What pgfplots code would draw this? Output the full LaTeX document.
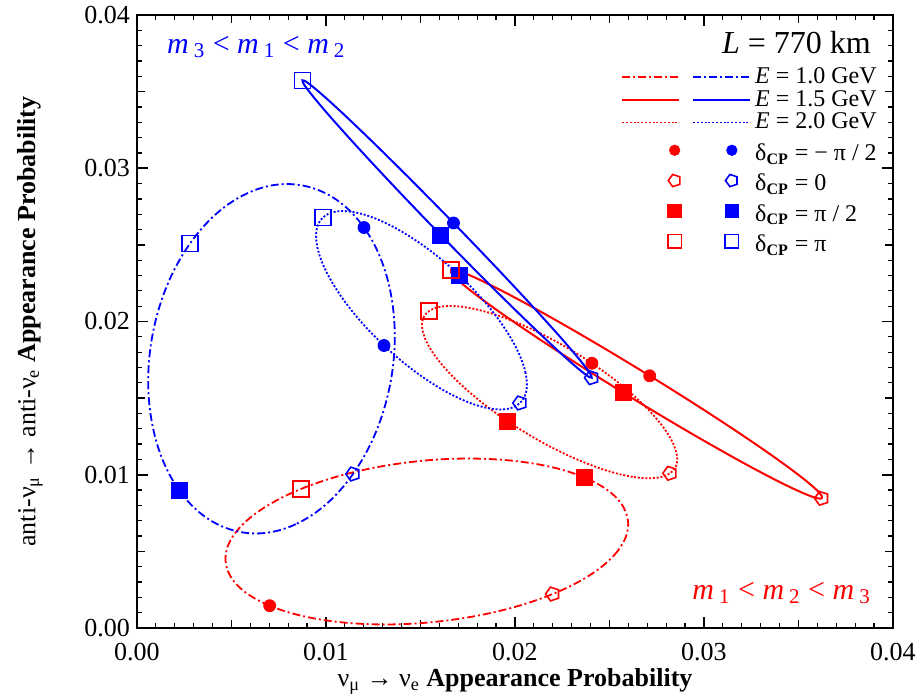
\documentclass[border=0pt]{standalone}
\usepackage{fontspec}
\setmainfont{Liberation Serif}
\usepackage{pgfplots}
\pgfplotsset{compat=1.18}
\tikzset{
  dd/.style={line width=0.9pt, dash pattern=on 4pt off 1.5pt on 1pt off 1.5pt},
  dt/.style={line width=0.9pt, dash pattern=on 1pt off 0.9pt},
  sl/.style={line width=1pt},
  ell/.style={smooth cycle, tension=0.64}
}
\pgfplotsset{
  mylegend/.style={
    legend columns=3, legend cell align=left,
    legend style={draw=none, fill=none, anchor=north east,
      inner sep=0pt, row sep=1.9pt, column sep=0pt,
      nodes={inner sep=0pt, font=\fontsize{12}{14}\selectfont},
      /tikz/column 2/.style={column sep=5pt},
      /tikz/column 5/.style={column sep=1pt}}
  }
}
\newcommand{\mstrut}{\rule[-4.55pt]{0pt}{16.3pt}}
\begin{document}
\begin{tikzpicture}
\path[use as bounding box] (-68.5pt,-34pt) rectangle (392.5pt,314pt);
\begin{axis}[
  scale only axis, width=378pt, height=306.5pt,
  xmin=0, xmax=0.04, ymin=0, ymax=0.04,
  xtick={0,0.01,0.02,0.03,0.04}, ytick={0,0.01,0.02,0.03,0.04},
  minor tick num=9,
  extra x ticks={0.005,0.015,0.025,0.035}, extra x tick labels={},
  extra y ticks={0.005,0.015,0.025,0.035}, extra y tick labels={},
  extra tick style={major tick length=3.8pt},
  major tick length=5.5pt, minor tick length=2.6pt,
  scaled ticks=false,
  /pgf/number format/assume math mode=true,
  xticklabel style={/pgf/number format/fixed, /pgf/number format/fixed zerofill, /pgf/number format/precision=2, yshift=-4pt},
  yticklabel style={/pgf/number format/fixed, /pgf/number format/fixed zerofill, /pgf/number format/precision=2},
  ticklabel style={font=\fontsize{13}{15}\selectfont},
  axis line style={line width=1pt},
  major tick style={line width=0.8pt, black},
  minor tick style={line width=0.6pt, black},
  xlabel={ν\textsubscript{μ} → ν\textsubscript{e} \textbf{Appearance Probability}},
  ylabel={anti-ν\textsubscript{μ} → anti-ν\textsubscript{e} \textbf{Appearance Probability}},
  label style={font=\fontsize{13}{15}\selectfont},
  xlabel style={at={(axis description cs:0.5,-0.087)}, anchor=center},
  ylabel style={at={(axis description cs:-0.1415,0.5)}, anchor=center},
  mylegend,
  legend style={at={(axis description cs:0.979,0.915)}},
]
% ---------------- curves -----------------
% red E=1.0
\addplot[red, dd, ell, forget plot] coordinates {
(0.021995,0.002218) (0.025261,0.004772) (0.025867,0.007559) (0.023651,0.009833)
(0.019207,0.010985) (0.013727,0.010706) (0.008677,0.009070) (0.005411,0.006516)
(0.004805,0.003729) (0.007021,0.001455) (0.011465,0.000303) (0.016945,0.000582)};
% red E=2.0
\addplot[red, dt, ell, forget plot] coordinates {
(0.028201,0.010095) (0.026228,0.009863) (0.023078,0.011111) (0.019593,0.013507)
(0.016708,0.016407) (0.015196,0.019033) (0.015461,0.020685) (0.017434,0.020917)
(0.020584,0.019669) (0.024069,0.017273) (0.026954,0.014373) (0.028466,0.011747)};
% red E=1.5
\addplot[red, sl, ell, forget plot] coordinates {
(0.036228,0.008463) (0.034561,0.009188) (0.030714,0.011715)
(0.025715,0.015367) (0.020906,0.019165) (0.017575,0.022090)
(0.016614,0.023361) (0.018281,0.022636) (0.022128,0.020109)
(0.027127,0.016457) (0.031936,0.012659) (0.035267,0.009734)};
% blue E=1.0
\addplot[blue, dd, ell, forget plot] coordinates {
(0.011428,0.010049) (0.008403,0.006775) (0.005034,0.006393) (0.002222,0.009005)
(0.000722,0.013913) (0.000935,0.019799) (0.002804,0.025089) (0.005829,0.028363)
(0.009198,0.028745) (0.012010,0.026133) (0.013510,0.021225) (0.013297,0.015339)};
% blue E=2.0
\addplot[blue, dt, ell, forget plot] coordinates {
(0.020265,0.014682) (0.020559,0.016643) (0.019377,0.019700) (0.017037,0.023034)
(0.014165,0.025752) (0.011531,0.027125) (0.009841,0.026786) (0.009547,0.024825)
(0.010729,0.021768) (0.013069,0.018434) (0.015941,0.015716) (0.018575,0.014343)};
% blue E=1.5
\addplot[blue, sl, ell, forget plot] coordinates {
(0.024058,0.016333) (0.022863,0.017437) (0.019939,0.020845)
(0.016068,0.025644) (0.012287,0.030549) (0.009611,0.034243)
(0.008756,0.035739) (0.009951,0.034635) (0.012875,0.031227)
(0.016746,0.026428) (0.020527,0.021523) (0.023203,0.017829)};
% ---------------- markers -----------------
\addplot[only marks, red, mark=*, mark size=3pt, forget plot] coordinates {(0.007021,0.001455) (0.027127,0.016457) (0.024069,0.017273)};
\addplot[only marks, blue, mark=*, mark size=3pt, forget plot] coordinates {(0.012010,0.026133) (0.016746,0.026428) (0.013069,0.018434)};
\addplot[only marks, red, mark=pentagon, mark size=3.6pt, mark options={rotate=90, line width=0.8pt}, forget plot] coordinates {(0.021995,0.002218) (0.036228,0.008463) (0.028201,0.010095)};
\addplot[only marks, blue, mark=pentagon, mark size=3.6pt, mark options={rotate=90, line width=0.8pt}, forget plot] coordinates {(0.011428,0.010049) (0.024058,0.016333) (0.020265,0.014682)};
\addplot[only marks, red, mark=square*, mark size=4pt, forget plot] coordinates {(0.023651,0.009833) (0.025715,0.015367) (0.019593,0.013507)};
\addplot[only marks, blue, mark=square*, mark size=4pt, forget plot] coordinates {(0.002222,0.009005) (0.016068,0.025644) (0.017037,0.023034)};
\addplot[only marks, red, mark=square, mark size=4pt, mark options={line width=0.8pt}, forget plot] coordinates {(0.008677,0.009070) (0.016614,0.023361) (0.015461,0.020685)};
\addplot[only marks, blue, mark=square, mark size=4pt, mark options={line width=0.8pt}, forget plot] coordinates {(0.002804,0.025089) (0.008756,0.035739) (0.009841,0.026786)};
% ---------------- line legend -----------------
\addlegendimage{legend image code/.code={\draw[red, line width=0.9pt, dash pattern=on 4pt off 1.5pt on 1pt off 1.5pt] (0pt,0pt) -- (28.5pt,0pt);}}
\addlegendentry{}
\addlegendimage{legend image code/.code={\draw[blue, line width=0.9pt, dash pattern=on 4pt off 1.5pt on 1pt off 1.5pt] (0pt,0pt) -- (28.5pt,0pt);}}
\addlegendentry{}
\addlegendimage{empty legend}
\addlegendentry{\textit{E} = 1.0 GeV}
\addlegendimage{legend image code/.code={\draw[red, line width=1pt] (0pt,0pt) -- (28.5pt,0pt);}}
\addlegendentry{}
\addlegendimage{legend image code/.code={\draw[blue, line width=1pt] (0pt,0pt) -- (28.5pt,0pt);}}
\addlegendentry{}
\addlegendimage{empty legend}
\addlegendentry{\textit{E} = 1.5 GeV}
\addlegendimage{legend image code/.code={\draw[red, line width=0.9pt, dash pattern=on 1pt off 0.9pt] (0pt,0pt) -- (28.5pt,0pt);}}
\addlegendentry{}
\addlegendimage{legend image code/.code={\draw[blue, line width=0.9pt, dash pattern=on 1pt off 0.9pt] (0pt,0pt) -- (28.5pt,0pt);}}
\addlegendentry{}
\addlegendimage{empty legend}
\addlegendentry{\textit{E} = 2.0 GeV}
% ---------------- annotations -----------------
\node[anchor=east, font=\fontsize{16}{18}\selectfont] at (axis cs:0.0392,0.0382) {\textit{L} = 770 km};
\node[anchor=west, text=blue, font=\fontsize{15}{17}\selectfont] at (axis cs:0.00122,0.0379) {\textit{m}\,\textsubscript{3} < \textit{m}\,\textsubscript{1} < \textit{m}\,\textsubscript{2}};
\node[anchor=east, text=red, font=\fontsize{15}{17}\selectfont] at (axis cs:0.0392,0.00228) {\textit{m}\,\textsubscript{1} < \textit{m}\,\textsubscript{2} < \textit{m}\,\textsubscript{3}};
\end{axis}
% ---------------- marker legend (legend-only axis) -----------------
\begin{axis}[
  scale only axis, width=378pt, height=306.5pt, hide axis,
  xmin=0, xmax=1, ymin=0, ymax=1,
  mylegend,
  legend style={at={(axis description cs:0.979,0.8016)}},
]
\addlegendimage{legend image code/.code={\path (0pt,0pt) (28.5pt,0pt); \draw[red, only marks, mark=*, mark size=2.6pt] plot coordinates {(27pt,0pt)};}}
\addlegendentry{}
\addlegendimage{legend image code/.code={\path (0pt,0pt) (28.5pt,0pt); \draw[blue, only marks, mark=*, mark size=2.6pt] plot coordinates {(19pt,0pt)};}}
\addlegendentry{}
\addlegendimage{empty legend}
\addlegendentry{\mstrut δ\textsubscript{\textbf{CP}} = − π / 2}
\addlegendimage{legend image code/.code={\path (0pt,0pt) (28.5pt,0pt); \draw[red, only marks, mark=pentagon, mark size=3.2pt, mark options={rotate=90, line width=0.8pt}] plot coordinates {(27pt,0pt)};}}
\addlegendentry{}
\addlegendimage{legend image code/.code={\path (0pt,0pt) (28.5pt,0pt); \draw[blue, only marks, mark=pentagon, mark size=3.2pt, mark options={rotate=90, line width=0.8pt}] plot coordinates {(19pt,0pt)};}}
\addlegendentry{}
\addlegendimage{empty legend}
\addlegendentry{\mstrut δ\textsubscript{\textbf{CP}} = 0}
\addlegendimage{legend image code/.code={\path (0pt,0pt) (28.5pt,0pt); \draw[red, only marks, mark=square*, mark size=3.4pt] plot coordinates {(27pt,0pt)};}}
\addlegendentry{}
\addlegendimage{legend image code/.code={\path (0pt,0pt) (28.5pt,0pt); \draw[blue, only marks, mark=square*, mark size=3.4pt] plot coordinates {(19pt,0pt)};}}
\addlegendentry{}
\addlegendimage{empty legend}
\addlegendentry{\mstrut δ\textsubscript{\textbf{CP}} = π / 2}
\addlegendimage{legend image code/.code={\path (0pt,0pt) (28.5pt,0pt); \draw[red, only marks, mark=square, mark size=3.4pt, mark options={line width=0.8pt}] plot coordinates {(27pt,0pt)};}}
\addlegendentry{}
\addlegendimage{legend image code/.code={\path (0pt,0pt) (28.5pt,0pt); \draw[blue, only marks, mark=square, mark size=3.4pt, mark options={line width=0.8pt}] plot coordinates {(19pt,0pt)};}}
\addlegendentry{}
\addlegendimage{empty legend}
\addlegendentry{\mstrut δ\textsubscript{\textbf{CP}} = π}
\end{axis}
\end{tikzpicture}
\end{document}
